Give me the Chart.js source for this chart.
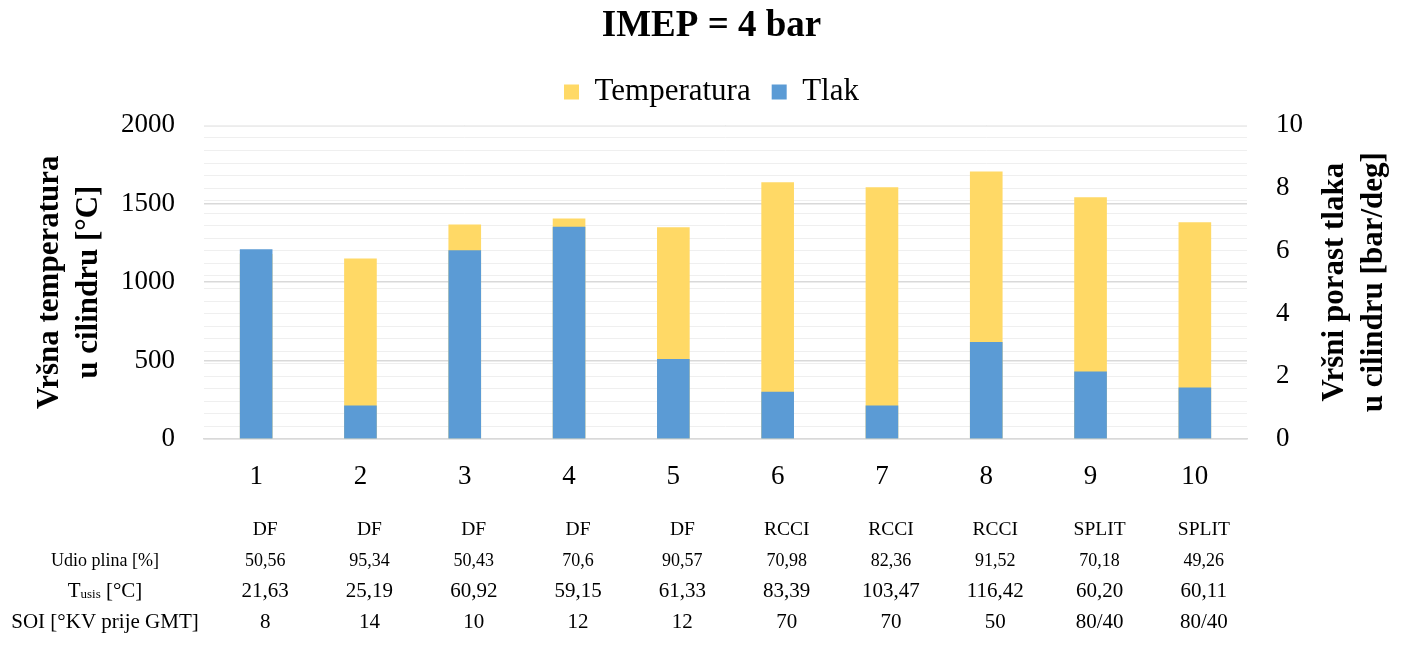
<!DOCTYPE html>
<html>
<head>
<meta charset="utf-8">
<script src="https://cdn.jsdelivr.net/npm/chart.js@4.4.1/dist/chart.umd.min.js"></script>
<style>
  html, body { margin: 0; padding: 0; background: #fff; }
  #wrap { width: 1401px; height: 646px; }
</style>
</head>
<body>
<div id="wrap"><canvas id="chart" width="1401" height="646"></canvas></div>
<script>
// Data
const cases = ["1", "2", "3", "4", "5", "6", "7", "8", "9", "10"];
const temperatura = [1180, 1151, 1368, 1406, 1351, 1638, 1606, 1706, 1541, 1383];
const tlak = [6.05, 1.07, 6.02, 6.77, 2.55, 1.51, 1.07, 3.09, 2.15, 1.64];

// Table under the chart
const nacin = ["DF", "DF", "DF", "DF", "DF", "RCCI", "RCCI", "RCCI", "SPLIT", "SPLIT"];
const udioPlina = ["50,56", "95,34", "50,43", "70,6", "90,57", "70,98", "82,36", "91,52", "70,18", "49,26"];
const tUsis = ["21,63", "25,19", "60,92", "59,15", "61,33", "83,39", "103,47", "116,42", "60,20", "60,11"];
const soi = ["8", "14", "10", "12", "12", "70", "70", "50", "80/40", "80/40"];

const SERIF = "'Liberation Serif', 'Times New Roman', serif";
const YELLOW = "#FFD966";
const BLUE = "#5B9BD5";

// Adds some room under the legend
const legendGap = {
  id: "legendGap",
  afterInit(chart) {
    const legend = chart.legend;
    if (!legend) return;
    const fit = legend.fit.bind(legend);
    legend.fit = function () {
      fit();
      this.height += 8;
    };
  }
};

// Draws the right axis title (reads bottom-to-top) and the table rows
const tablePlugin = {
  id: "tablePlugin",
  afterDraw(chart) {
    const ctx = chart.ctx;
    const x = chart.scales.x;
    const yR = chart.scales.yR;
    const labelX = 105;

    ctx.save();
    ctx.fillStyle = "#000";
    ctx.textBaseline = "middle";

    // right axis title
    ctx.save();
    ctx.font = "bold 31px " + SERIF;
    ctx.textAlign = "center";
    const midY = (chart.chartArea.top + chart.chartArea.bottom) / 2;
    ctx.translate(yR.right - 66, midY);
    ctx.rotate(-Math.PI / 2);
    ctx.fillText("Vršni porast tlaka", 0, 0);
    ctx.fillText("u cilindru [bar/deg]", 0, 38.5);
    ctx.restore();

    ctx.textAlign = "center";
    function row(values, y, size) {
      ctx.font = size + "px " + SERIF;
      values.forEach((v, i) => {
        ctx.fillText(v, x.getPixelForValue(i) + 9, y);
      });
    }

    row(nacin, 530, 19.5);
    row(udioPlina, 561, 18);
    row(tUsis, 591, 21);
    row(soi, 622, 21);

    // row labels
    ctx.font = "18px " + SERIF;
    ctx.fillText("Udio plina [%]", labelX, 561);
    ctx.font = "21px " + SERIF;
    ctx.fillText("SOI [°KV prije GMT]", labelX, 622);

    // T with subscript "usis"
    ctx.textAlign = "left";
    const big = "21px " + SERIF;
    const small = "13px " + SERIF;
    ctx.font = big;
    const wT = ctx.measureText("T").width;
    const wRest = ctx.measureText(" [°C]").width;
    ctx.font = small;
    const wSub = ctx.measureText("usis").width;
    let sx = labelX - (wT + wSub + wRest) / 2;
    ctx.font = big;
    ctx.fillText("T", sx, 591);
    ctx.font = small;
    ctx.fillText("usis", sx + wT, 595);
    ctx.font = big;
    ctx.fillText(" [°C]", sx + wT + wSub, 591);

    ctx.restore();
  }
};

const ctx = document.getElementById("chart").getContext("2d");

new Chart(ctx, {
  type: "bar",
  data: {
    labels: cases,
    datasets: [
      {
        label: "Temperatura",
        data: temperatura,
        backgroundColor: YELLOW,
        yAxisID: "y",
        order: 2,
        grouped: false,
        barPercentage: 0.313,
        categoryPercentage: 1,
      },
      {
        label: "Tlak",
        data: tlak,
        backgroundColor: BLUE,
        yAxisID: "yR",
        order: 1,
        grouped: false,
        barPercentage: 0.313,
        categoryPercentage: 1,
      },
    ],
  },
  options: {
    responsive: false,
    animation: false,
    layout: { padding: { left: 22, right: 0, top: 0, bottom: 0 } },
    plugins: {
      title: {
        display: true,
        text: "IMEP = 4 bar",
        color: "#000",
        font: { family: SERIF, size: 37, weight: "bold" },
        padding: { top: 4, bottom: 7 },
      },
      legend: {
        display: true,
        position: "top",
        labels: {
          color: "#000",
          font: { family: SERIF, size: 31 },
          boxWidth: 15,
          boxHeight: 15,
          padding: 21,
          sort: (a, b) => a.datasetIndex - b.datasetIndex,
        },
      },
      tooltip: { enabled: false },
    },
    scales: {
      x: {
        grid: { display: false, drawTicks: false },
        border: { display: true, color: "#d9d9d9", width: 1.5 },
        ticks: {
          color: "#000",
          font: { family: SERIF, size: 27 },
          padding: 22,
          maxRotation: 0,
        },
        afterFit(scale) {
          scale.height = 207;
        },
      },
      y: {
        position: "left",
        min: 0,
        max: 2000,
        grid: { color: "#d9d9d9", lineWidth: 1.5, drawTicks: false },
        border: { display: false },
        ticks: {
          stepSize: 500,
          color: "#000",
          font: { family: SERIF, size: 27 },
          padding: 29,
          callback: (v) => String(v),
        },
        title: {
          display: true,
          text: ["Vršna temperatura", "u cilindru [°C]"],
          color: "#000",
          font: { family: SERIF, size: 31, weight: "bold", lineHeight: 1.24 },
          padding: { top: 9, bottom: 0 },
        },
        afterFit(scale) {
          scale.width = 182;
        },
      },
      yR: {
        position: "right",
        min: 0,
        max: 10,
        z: -1,
        grid: { color: "#efefef", lineWidth: 1, drawTicks: false },
        border: { display: false },
        ticks: {
          stepSize: 0.4,
          autoSkip: false,
          maxTicksLimit: 40,
          color: "#000",
          font: { family: SERIF, size: 27 },
          padding: 29,
          callback: (v) => {
            const k = v / 2;
            return Math.abs(k - Math.round(k)) < 1e-6 ? String(Math.round(v)) : "";
          },
        },
        afterFit(scale) {
          scale.width = 154;
        },
      },
    },
  },
  plugins: [legendGap, tablePlugin],
});
</script>
</body>
</html>
